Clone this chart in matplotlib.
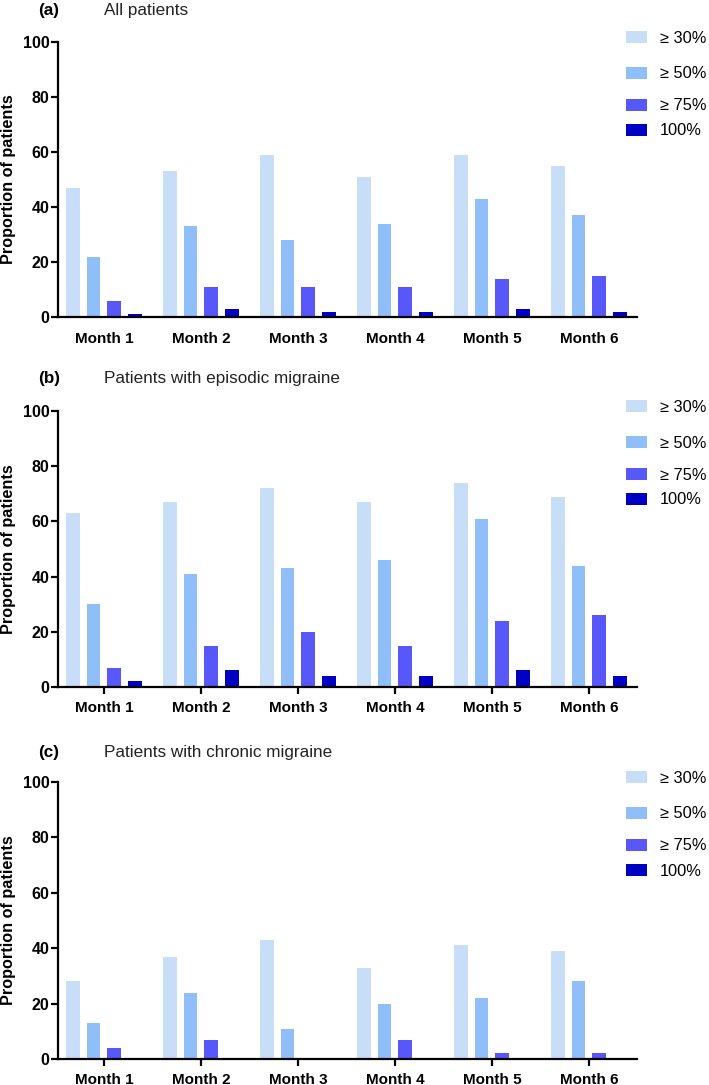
import matplotlib
matplotlib.use("Agg")
import matplotlib.pyplot as plt
import numpy as np

plt.rcParams['font.family'] = ['Liberation Sans', 'DejaVu Sans']

months = ["Month 1", "Month 2", "Month 3", "Month 4", "Month 5", "Month 6"]
series_labels = ["\u2265 30%", "\u2265 50%", "\u2265 75%", "100%"]
colors = ["#c7ddf8", "#8fbef8", "#5757fa", "#0000c4"]

# (a) All patients
all_30 = [47, 53, 59, 51, 59, 55]
all_50 = [22, 33, 28, 34, 43, 37]
all_75 = [6, 11, 11, 11, 14, 15]
all_100 = [1, 3, 2, 2, 3, 2]

# (b) Patients with episodic migraine
epi_30 = [63, 67, 72, 67, 74, 69]
epi_50 = [30, 41, 43, 46, 61, 44]
epi_75 = [7, 15, 20, 15, 24, 26]
epi_100 = [2, 6, 4, 4, 6, 4]

# (c) Patients with chronic migraine
chr_30 = [28, 37, 43, 33, 41, 39]
chr_50 = [13, 24, 11, 20, 22, 28]
chr_75 = [4, 7, 0, 7, 2, 2]
chr_100 = [0, 0, 0, 0, 0, 0]

panels = [
    ("(a)", "All patients", [all_30, all_50, all_75, all_100], False),
    ("(b)", "Patients with episodic migraine", [epi_30, epi_50, epi_75, epi_100], True),
    ("(c)", "Patients with chronic migraine", [chr_30, chr_50, chr_75, chr_100], True),
]

W, H = 709, 1085
fig = plt.figure(figsize=(W / 100, H / 100), dpi=100)

# pixel geometry: (left, right, top(y=100), bottom(y=0))
geom = [(58, 637, 42, 317), (58, 637, 411, 687), (58, 637, 782, 1059)]
title_y = [10, 378, 752]
legend_row_offsets = [-3.5, 32, 64, 89]

x = np.arange(len(months))
width = 0.144
step = 0.216
offsets = (np.arange(4) - 1.5) * step

for (tag, title, data, show_ticks), (l, r, t, b), ty in zip(panels, geom, title_y):
    ax = fig.add_axes([l / W, 1 - b / H, (r - l) / W, (b - t) / H])
    handles = []
    for vals, off, c, lab in zip(data, offsets, colors, series_labels):
        h = ax.bar(x + off, vals, width=width, color=c, label=lab, linewidth=0)
        handles.append(h)
    ax.set_xlim(-0.474, 5.495)
    ax.set_ylim(0, 100)
    ax.set_yticks([0, 20, 40, 60, 80, 100])
    ax.set_xticks(x)
    ax.set_xticklabels(months, fontsize=11, fontweight='bold')
    for lbl in ax.get_yticklabels():
        lbl.set_fontweight('bold')
        lbl.set_fontsize(11.5)
    ax.spines['top'].set_visible(False)
    ax.spines['right'].set_visible(False)
    ax.spines['left'].set_linewidth(1.6)
    ax.spines['bottom'].set_linewidth(1.6)
    ax.tick_params(axis='y', length=5, width=1.6, pad=1)
    if show_ticks:
        ax.tick_params(axis='x', length=5, width=1.6, pad=5)
    else:
        ax.tick_params(axis='x', length=0, pad=11)
    ax.set_ylabel("Proportion of patients", fontsize=11.7, fontweight='bold')
    ax.yaxis.set_label_coords(-0.072, 0.5)

    fig.text(49 / W, 1 - ty / H, tag, fontsize=12.3, fontweight='bold', ha='center', va='center')
    fig.text(104 / W, 1 - ty / H, title, fontsize=12.3, ha='left', va='center', color='#222222')

    for h, lab, ro in zip(handles, series_labels, legend_row_offsets):
        fig.legend(handles=[h], labels=[lab], loc='center left',
                   bbox_to_anchor=(626 / W, 1 - (t + ro) / H), frameon=False,
                   fontsize=11.8, handlelength=1.3, handleheight=0.75,
                   handletextpad=0.75, borderaxespad=0, borderpad=0)

fig.savefig("out.png", dpi=100)
